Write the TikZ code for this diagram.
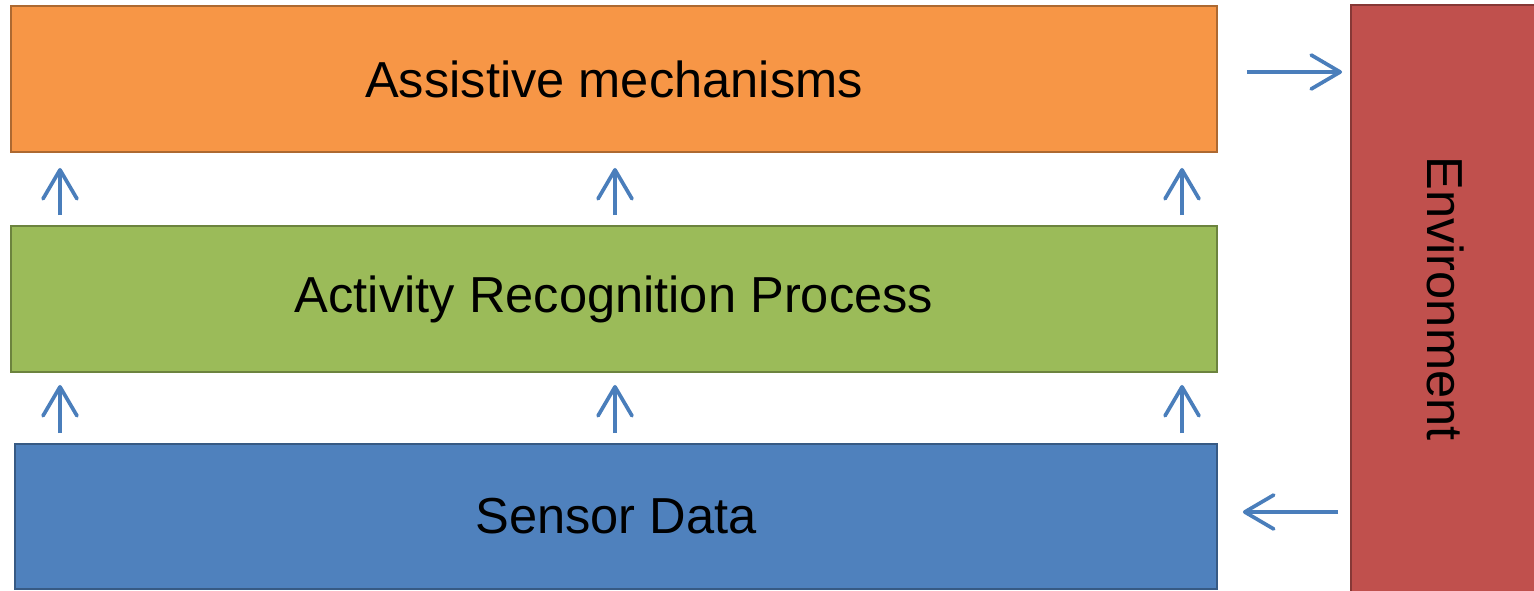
\documentclass[tikz,border=0pt]{standalone}
\usepackage{fontspec}
\setmainfont{Liberation Sans}
\usetikzlibrary{arrows.meta, positioning, calc}
\definecolor{assistorange}{HTML}{F79646}
\definecolor{activitygreen}{HTML}{9BBB59}
\definecolor{sensorblue}{HTML}{4F81BD}
\definecolor{envred}{HTML}{C0504D}
\definecolor{arrowblue}{HTML}{4A7EBB}
\tikzset{
  layerbox/.style={rectangle, draw=#1!70!black, fill=#1, line width=1.3pt,
                   inner sep=0pt, outer sep=0pt, align=center,
                   font=\fontsize{28.8}{34}\selectfont},
  layerbox/.default=sensorblue,
  arr/.style={-{Straight Barb[length=0.58cm, width=0.68cm, round]},
              line width=2.1pt, draw=#1},
  arr/.default=arrowblue,
}

\begin{document}
\begin{tikzpicture}[x=0.02cm, y=-0.02cm]
\clip (0,0) rectangle (1534,591);
\fill[white] (0,0) rectangle (1534,591);

% the three layers
\node[layerbox=assistorange, minimum width=24.12cm, minimum height=2.92cm]
  (assist) at (614,79) {Assistive mechanisms};
\node[layerbox=activitygreen, minimum width=24.12cm, minimum height=2.92cm]
  (activity) at (614,299) {Activity Recognition Process};
\node[layerbox=sensorblue, minimum width=24.04cm, minimum height=2.9cm]
  (sensor) at (616,516.5) {Sensor Data};

% environment on the right
\node[layerbox=envred, minimum width=3.78cm, minimum height=11.74cm]
  (env) at (1445.5,298.5) {\rotatebox{-90}{Environment}};

% upward flow
\foreach \x in {60,615,1182} {
  \draw[arr, shorten <=0.22cm, shorten >=0.26cm] (sensor.north -| \x,0) -- (activity.south -| \x,0);
  \draw[arr, shorten <=0.22cm, shorten >=0.32cm] (activity.north -| \x,0) -- (assist.south -| \x,0);
}

% to and from the environment
\draw[arr, shorten <=0.6cm, shorten >=0.18cm] (assist.east |- 0,72) -- (env.west |- 0,72);
\draw[arr, shorten <=0.26cm, shorten >=0.52cm] (env.west |- 0,512) -- (sensor.east |- 0,512);
\end{tikzpicture}
\end{document}
